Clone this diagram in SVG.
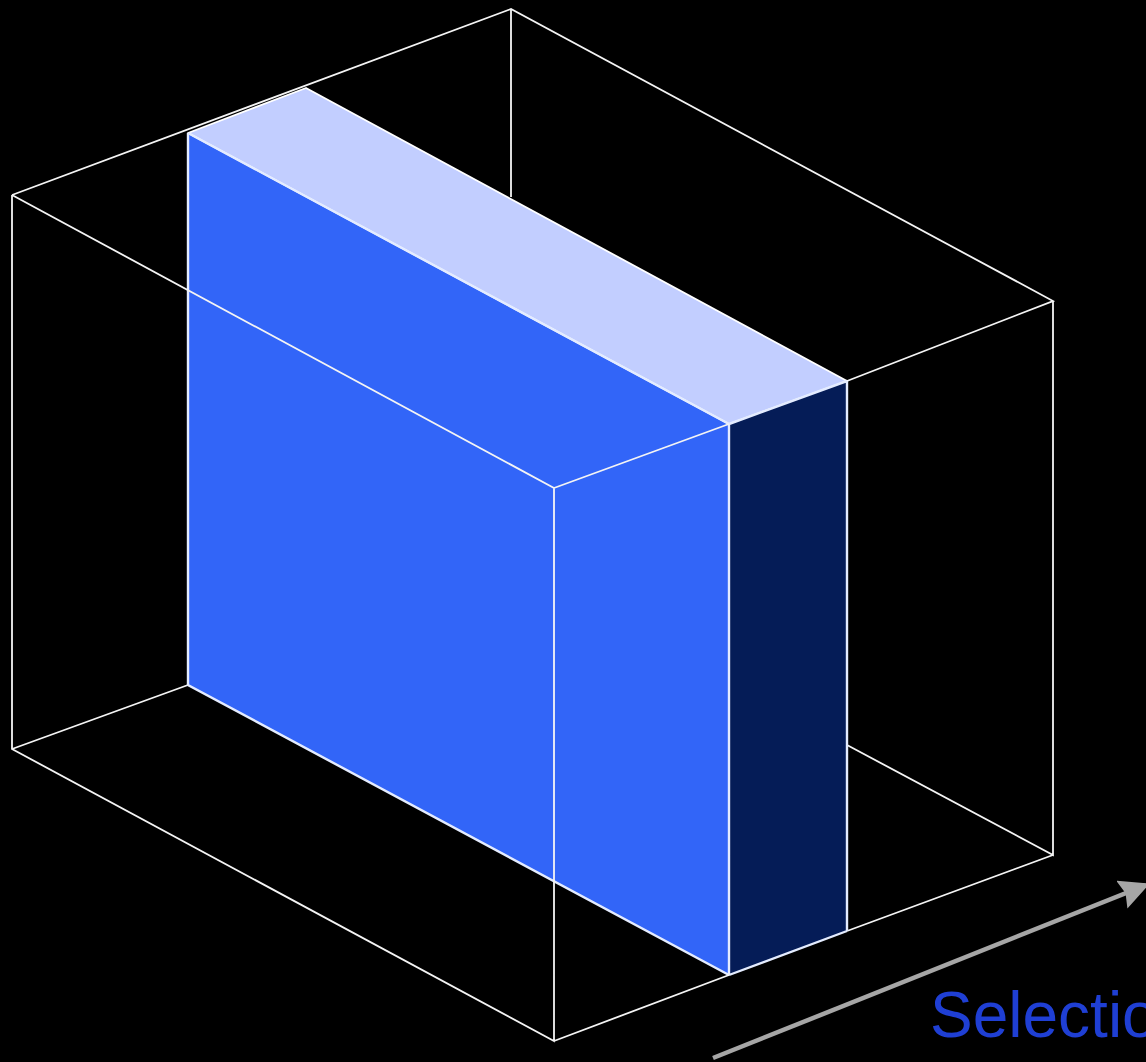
<svg xmlns="http://www.w3.org/2000/svg" width="1146" height="1062" viewBox="0 0 1146 1062">
<style>
.w{fill:none;stroke:#f4f4f4;stroke-width:1.8}
.e{fill:none;stroke:#e4ecff;stroke-width:2.4}
text{font-family:"Liberation Sans",Arial,sans-serif}
</style>
<defs>
<marker id="ah" markerUnits="userSpaceOnUse" markerWidth="34" markerHeight="34" refX="26" refY="15" orient="auto"><path d="M0 0L30 15L0 30L4 15Z" fill="#a6a6a6"/></marker>
</defs>
<rect width="1146" height="1062" fill="#000"/>
<g id="box-back">
<path class="w" d="M12 195L511 9L1053 301L847 381M511 9V197M1053 301V855L847 745M1053 855L847 931M12 749L188 685"/>
</g>
<g id="slab">
<path id="slab-front" d="M188 133L729 424V975L188 685Z" fill="#3265f8"/>
<path id="slab-top" d="M188 133L306 88L847 381L729 424Z" fill="#c2ceff" stroke="#fff" stroke-width="1.8" stroke-linejoin="round"/>
<path id="slab-side" d="M729 424L847 381V931L729 975Z" fill="#051c57"/>
<path class="e" d="M188 133V685L729 975M729 424V975M847 381V931M729 975L847 931M729 424L847 381M188 133L729 424"/>
</g>
<g id="box-front">
<path class="w" d="M12 195V749L554 1041V488L12 195M554 488L729 424M554 1041L729 975"/>
</g>
<g id="connectors">
<path d="M713 1058L1146 885" fill="none" stroke="#a6a6a6" stroke-width="4.5" marker-end="url(#ah)"/>
</g>
<g id="label">
<text x="930" y="1037" font-size="64" fill="#1f3fd4">Selectio</text>
</g>
</svg>
